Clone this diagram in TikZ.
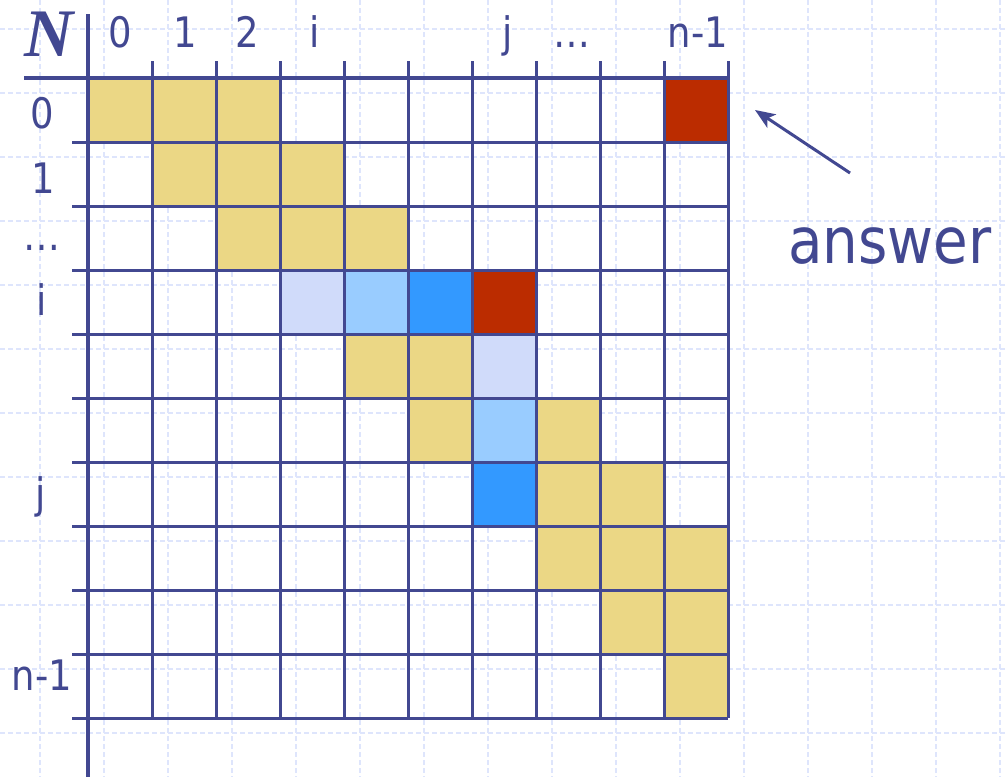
\documentclass[tikz,border=0pt]{standalone}
\usepackage{fontspec}
\usetikzlibrary{arrows.meta}
\newfontfamily\lab[FakeStretch=0.88]{DejaVu Sans}
\newfontfamily\nfont{Liberation Serif}
\definecolor{ink}{RGB}{66,72,145}
\definecolor{gold}{RGB}{235,215,133}
\definecolor{redc}{RGB}{187,44,0}
\definecolor{lav}{RGB}{208,219,250}
\definecolor{lblue}{RGB}{153,204,255}
\definecolor{dblue}{RGB}{51,153,255}
\definecolor{bggrid}{RGB}{222,229,252}
\tikzset{
  bgline/.style={draw=bggrid, line width=1.2pt, dash pattern=on 5pt off 3pt},
  gridline/.style={draw=ink, line width=3pt},
  axisline/.style={draw=ink, line width=4.2pt},
  lbl/.style={text=ink, inner sep=0pt, anchor=base, font=\lab\fontsize{42}{42}\selectfont},
  bigl/.style={text=ink, inner sep=0pt, anchor=base, font=\lab\fontsize{64}{64}\selectfont},
  nlbl/.style={text=ink, inner sep=0pt, anchor=base, font=\nfont\bfseries\itshape\fontsize{68}{68}\selectfont},
  arr/.style={draw=ink, line width=3pt, -{Stealth[length=20pt,width=16pt,inset=5pt]}}
}
\begin{document}
\begin{tikzpicture}[x=1pt,y=-1pt]
\useasboundingbox (0,0) rectangle (1006,777);
\fill[white] (0,0) rectangle (1006,777);
% background dashed grid
\foreach \x in {40,104,...,1000} \draw[bgline] (\x,0) -- (\x,777);
\foreach \y in {29,93,...,733} \draw[bgline] (0,\y) -- (1006,\y);
% coloured cells: row/col/colour
\foreach \r/\c/\col in {0/0/gold,0/1/gold,0/2/gold,0/9/redc,
  1/1/gold,1/2/gold,1/3/gold,
  2/2/gold,2/3/gold,2/4/gold,
  3/3/lav,3/4/lblue,3/5/dblue,3/6/redc,
  4/4/gold,4/5/gold,4/6/lav,
  5/5/gold,5/6/lblue,5/7/gold,
  6/6/dblue,6/7/gold,6/8/gold,
  7/7/gold,7/8/gold,7/9/gold,
  8/8/gold,8/9/gold,
  9/9/gold}
  \fill[\col] ({88+64*\c},{78+64*\r}) rectangle ++(64,64);
% grid lines
\foreach \k in {1,...,10} \draw[gridline] (72,{78+64*\k}) -- (728,{78+64*\k});
\foreach \k in {1,...,10} \draw[gridline] ({88+64*\k},61) -- ({88+64*\k},718);
% axes
\draw[axisline] (24,78) -- (728,78);
\draw[axisline] (88,14) -- (88,777);
% corner label
\node[nlbl] (N) at (49,56) {N};
% column labels
\node[lbl] (c0) at (120,47) {0};
\node[lbl] (c1) at (185,47) {1};
\node[lbl] (c2) at (247,47) {2};
\node[lbl] (ci) at (315,47) {i};
\node[lbl] (cj) at (508,47) {j};
\node[lbl] (cd) at (572,47) {…};
\node[lbl] (cn) at (698,47) {n-1};
% row labels
\node[lbl] (r0) at (42,128) {0};
\node[lbl] (r1) at (43,193) {1};
\node[lbl] (rd) at (42,250) {…};
\node[lbl] (ri) at (42,315) {i};
\node[lbl] (rj) at (41,508) {j};
\node[lbl] (rn) at (42,690) {n-1};
% answer
\node[bigl] (ans) at (890,263) {answer};
\coordinate (astart) at (850,173);
\coordinate (atip) at (755,110);
\draw[arr] (astart) -- (atip);
\end{tikzpicture}
\end{document}
